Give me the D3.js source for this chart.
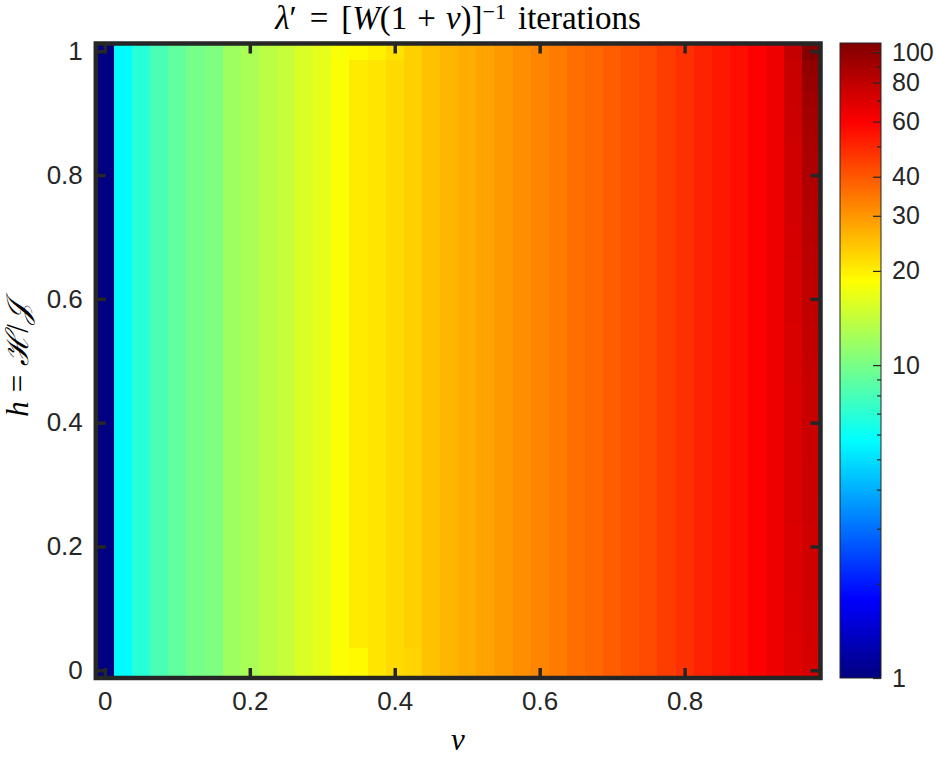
<!DOCTYPE html>
<html><head><meta charset="utf-8">
<script src="https://cdn.jsdelivr.net/npm/d3@7"></script>
<style>body{margin:0;background:#fff}</style>
</head><body>
<svg id="chart" width="937" height="761"></svg>
<script>
// ---- data ----
const vValues = [0,0.025,0.05,0.075,0.1,0.125,0.15,0.175,0.2,0.225,0.25,0.275,0.3,0.325,0.35,0.375,0.4,0.425,0.45,0.475,0.5,0.525,0.55,0.575,0.6,0.625,0.65,0.675,0.7,0.725,0.75,0.775,0.8,0.825,0.85,0.875,0.9,0.925,0.95,0.975];
const hValues = [0,0.025,0.05,0.075,0.1,0.125,0.15,0.175,0.2,0.225,0.25,0.275,0.3,0.325,0.35,0.375,0.4,0.425,0.45,0.475,0.5,0.525,0.55,0.575,0.6,0.625,0.65,0.675,0.7,0.725,0.75,0.775,0.8,0.825,0.85,0.875,0.9,0.925,0.95,0.975,1];
// iterations along v, read at mid height
const iterMid = [1,5.7,6.9,8.1,9.0,9.9,10.3,11.9,12.5,13.6,14.3,15.6,16.5,18.3,20.3,20.8,22.0,23.0,24.7,25.9,27.0,28.3,29.6,31.0,32.5,33.9,35.8,37.2,39.0,40.8,42.6,45.3,47.8,51.0,53.5,56.0,60.1,64.4,70.3,75.5];
// two bottom rows (h = 0, 0.025)
const iterBottom = [1,5.7,6.9,8.1,9.0,9.9,10.3,11.9,12.5,13.6,14.3,15.6,16.5,18.3,19.0,20.8,22.0,22.6,24.7,25.9,27.0,28.3,29.6,31.0,32.5,33.9,35.8,37.2,39.0,40.8,42.6,45.3,47.8,51.0,53.5,56.0,60.1,64.4,69.0,72.0];
// top row (h = 1)
const iterTop = [1,5.7,6.9,8.1,9.0,9.9,10.3,11.9,12.5,13.6,14.3,15.6,16.5,18.0,19.0,19.8,21.2,23.0,24.7,25.9,27.0,28.3,29.6,31.0,32.5,33.9,35.8,37.2,39.0,40.8,42.6,45.3,47.8,51.0,53.5,56.0,60.1,64.4,78.0,105];
// last two columns along h (v = 0.95, 0.975)
const iterSecondLastCol = [69,69,69,69.5,69.5,69.5,70,70,70,70,70.3,70.3,70.3,70.3,70.3,70.3,70.5,70.5,70.5,71,71,71,71,71.5,71.5,72,72,72.5,72.5,73,73,73.5,74,74,74.5,75,75.5,76,76.5,77,78];
const iterLastCol = [72,72,72.5,73,73,73.5,74,74,74.5,74.5,75,75,75.5,75.5,76,76,76.5,77,77,77.5,78,78.5,79,79.5,80,80.5,81,82,82.5,83,84,85,86,87,88,89,91,93,95,98,105];
const xTicks = [0,0.2,0.4,0.6,0.8];
const yTicks = [0,0.2,0.4,0.6,0.8,1];
const cbarTicks = [1,10,20,30,40,60,80,100];
const cbarMinor = [2,3,4,5,6,7,8,9,50,70,90];
const colorLimits = [1,107];

// ---- drawing ----
const svg = d3.select("#chart");
const ink = "#262626";
const sans = "'Liberation Sans', Arial, Helvetica, sans-serif";
const serif = "'Liberation Serif', 'Times New Roman', serif";
const dv = 0.025, dh = 0.025;
const x = d3.scaleLinear().domain([vValues[0]-dv/2, vValues[vValues.length-1]+dv/2]).range([95.8, 820.5]);
const y = d3.scaleLinear().domain([hValues[0]-dh/2, hValues[hValues.length-1]+dh/2]).range([678, 43.5]);
const cScale = d3.scaleLog().domain(colorLimits).range([0,1]).clamp(true);
function jet(t){
  const c = v => Math.max(0, Math.min(1, v));
  return d3.rgb(255*c(1.5-Math.abs(4*t-3)), 255*c(1.5-Math.abs(4*t-2)), 255*c(1.5-Math.abs(4*t-1)));
}

const cells = [];
const nR = hValues.length, nC = vValues.length;
hValues.forEach((h,i) => vValues.forEach((v,j) => {
  let val = iterMid[j];
  if (i <= 1) val = iterBottom[j];
  if (i === nR-1) val = iterTop[j];
  if (j === nC-2) val = iterSecondLastCol[i];
  if (j === nC-1) val = iterLastCol[i];
  cells.push({v, h, val});
}));

const cw = x(dv) - x(0), ch = y(0) - y(dh);
svg.append("g").selectAll("rect").data(cells).join("rect")
  .attr("x", d => x(d.v - dv/2))
  .attr("y", d => y(d.h + dh/2))
  .attr("width", cw + 0.6)
  .attr("height", ch + 0.6)
  .attr("fill", d => jet(cScale(d.val)))
  .attr("shape-rendering", "crispEdges");

function styleAxis(g){
  g.select(".domain").remove();
  g.selectAll(".tick line").attr("stroke", ink).attr("stroke-width", 3.5);
  g.selectAll(".tick text").attr("fill", ink).style("font-family", sans).style("font-size", "26px");
}
const fmt = d3.format("~g");
const [y0, y1] = y.range(), [x0, x1] = x.range();
svg.append("g").attr("transform", `translate(0,${y0})`)
  .call(d3.axisBottom(x).tickValues(xTicks).tickFormat(fmt).tickSizeInner(-10).tickSizeOuter(0).tickPadding(14)).call(styleAxis);
svg.append("g").attr("transform", `translate(0,${y1})`)
  .call(d3.axisTop(x).tickValues(xTicks).tickFormat("").tickSizeInner(-10).tickSizeOuter(0)).call(styleAxis);
svg.append("g").attr("transform", `translate(${x0},0)`)
  .call(d3.axisLeft(y).tickValues(yTicks).tickFormat(fmt).tickSizeInner(-10).tickSizeOuter(0).tickPadding(13)).call(styleAxis);
svg.append("g").attr("transform", `translate(${x1},0)`)
  .call(d3.axisRight(y).tickValues(yTicks).tickFormat("").tickSizeInner(-10).tickSizeOuter(0)).call(styleAxis);

svg.append("rect").attr("x", x0).attr("y", y1).attr("width", x1-x0).attr("height", y0-y1)
  .attr("fill", "none").attr("stroke", ink).attr("stroke-width", 4.5);

// colorbar
const cbX = 840, cbW = 41, cbTop = 43, cbBot = 678;
const cy = d3.scaleLog().domain(colorLimits).range([cbBot, cbTop]);
const grad = svg.append("defs").append("linearGradient").attr("id","jetGrad")
  .attr("x1",0).attr("y1",1).attr("x2",0).attr("y2",0);
[0,0.125,0.375,0.625,0.875,1].forEach(o => grad.append("stop").attr("offset", o).attr("stop-color", jet(o)));
svg.append("rect").attr("x", cbX).attr("y", cbTop).attr("width", cbW).attr("height", cbBot-cbTop)
  .attr("fill", "url(#jetGrad)").attr("stroke", ink).attr("stroke-width", 1);
function styleCb(g){
  g.select(".domain").remove();
  g.selectAll(".tick line").attr("stroke", ink).attr("stroke-width", 1.2);
  g.selectAll(".tick text").attr("fill", ink).style("font-family", sans).style("font-size", "25px");
}
svg.append("g").attr("transform", `translate(${cbX+cbW},0)`)
  .call(d3.axisRight(cy).tickValues(cbarTicks).tickFormat(d3.format("d")).tickSizeInner(-8).tickSizeOuter(0).tickPadding(11)).call(styleCb);
svg.append("g").attr("transform", `translate(${cbX+cbW},0)`)
  .call(d3.axisRight(cy).tickValues(cbarMinor).tickFormat("").tickSizeInner(-4).tickSizeOuter(0)).call(styleCb);

// title
const title = svg.append("text").attr("x", 458).attr("y", 29).attr("text-anchor", "middle")
  .style("font-family", serif).style("font-size", "33px").attr("fill", "#000");
title.append("tspan").style("font-style","italic").text("λ");
title.append("tspan").text("′");
title.append("tspan").attr("dx", 13).text("=");
title.append("tspan").attr("dx", 13).text("[");
title.append("tspan").style("font-style","italic").text("W");
title.append("tspan").text("(1");
title.append("tspan").attr("dx", 10).text("+");
title.append("tspan").attr("dx", 10).style("font-style","italic").text("v");
title.append("tspan").text(")]");
title.append("tspan").attr("dy", -10).style("font-size","22px").text("−1");
title.append("tspan").attr("dy", 10).attr("dx", 12).text("iterations");

// x label
svg.append("text").attr("x", 458).attr("y", 750).attr("text-anchor","middle")
  .style("font-family", serif).style("font-size","31px").style("font-style","italic").text("v");

// y label
const yl = svg.append("text").attr("transform","translate(28,360) rotate(-90)").attr("text-anchor","middle")
  .style("font-family", serif).style("font-size","31px");
yl.append("tspan").style("font-style","italic").text("h");
yl.append("tspan").attr("dx", 9).text("=");
yl.append("tspan").attr("dx", 9).style("font-style","italic").text("ℋ");
yl.append("tspan").text("/");
yl.append("tspan").style("font-style","italic").text("𝒥");
</script>
</body></html>
